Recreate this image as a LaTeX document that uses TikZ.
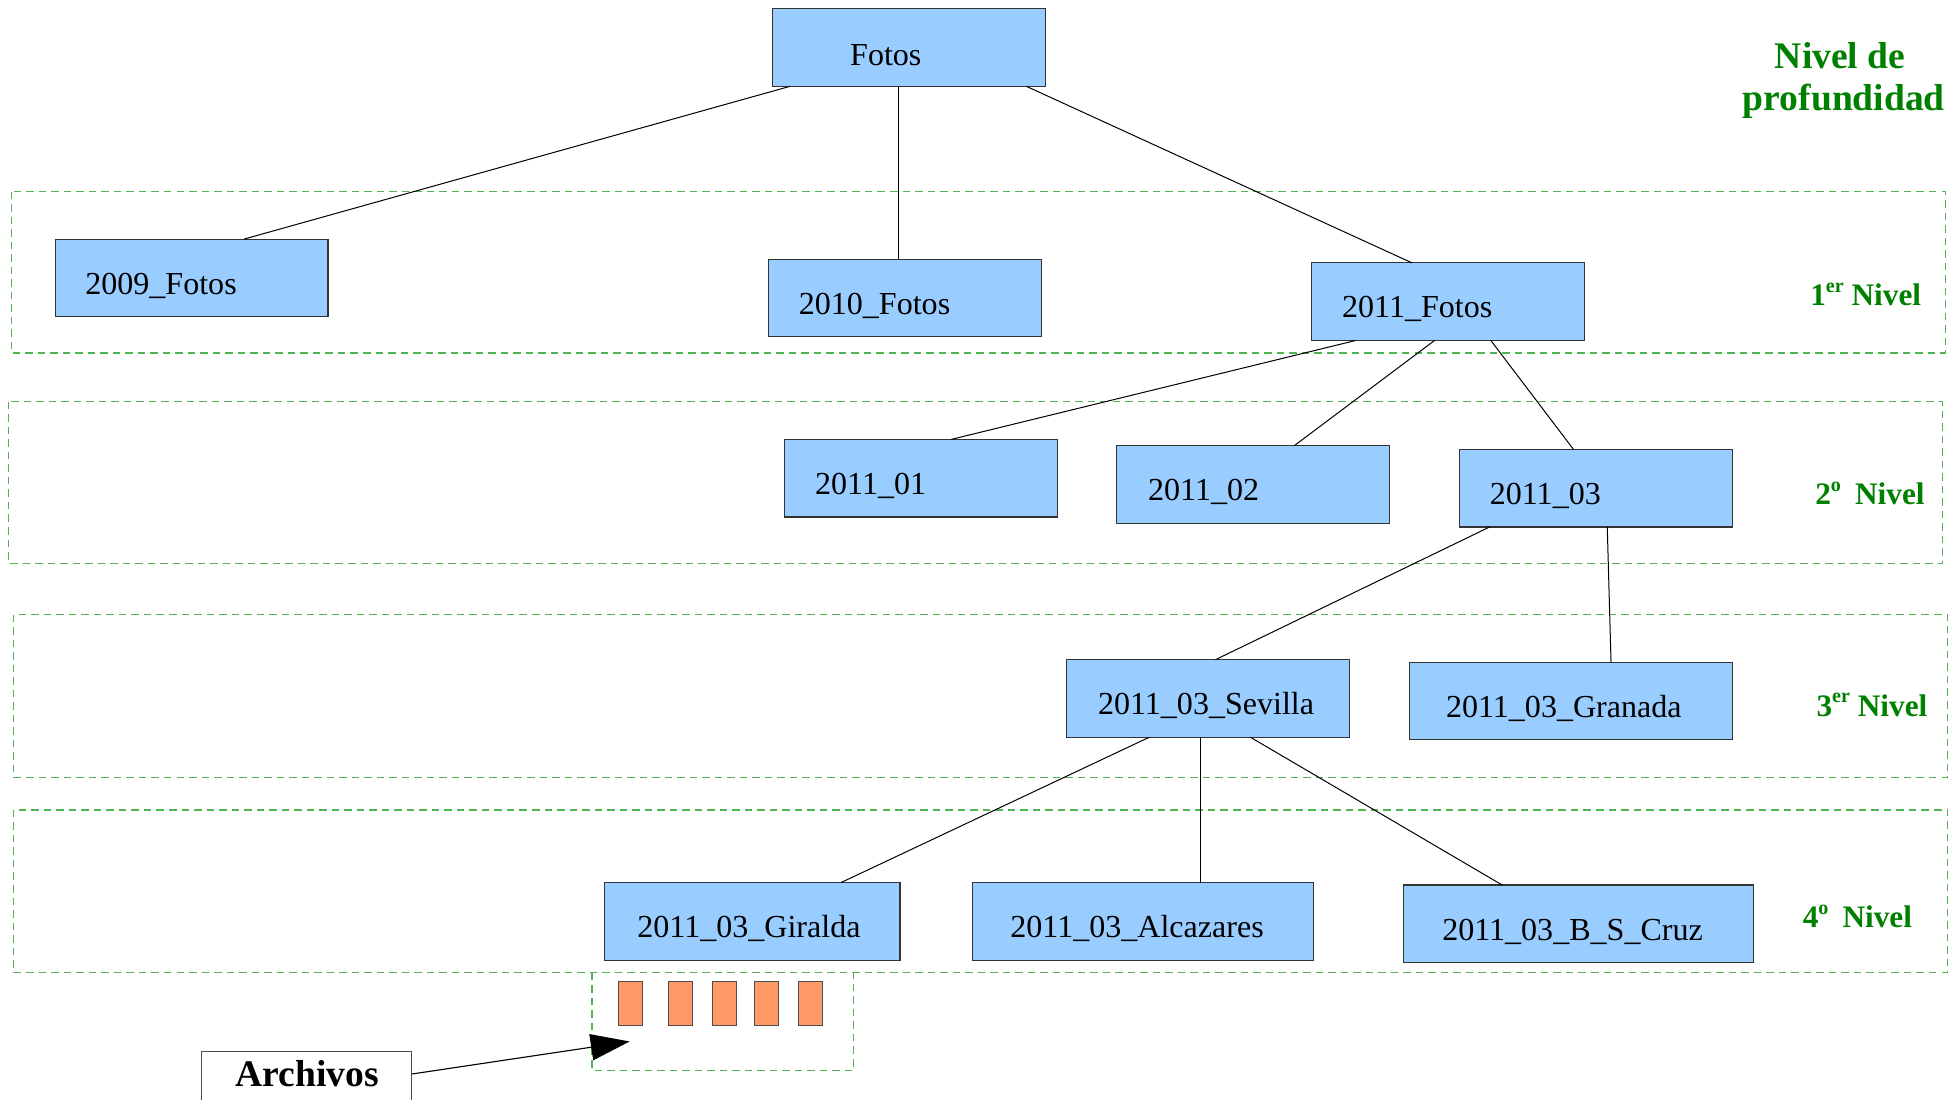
\documentclass[tikz,border=0pt]{standalone}
\usepackage{fontspec}
\setmainfont{Liberation Serif}
\usetikzlibrary{arrows.meta}
\definecolor{boxblue}{RGB}{153,204,255}
\definecolor{dashgreen}{RGB}{80,180,80}
\definecolor{txtgreen}{RGB}{0,128,0}
\definecolor{fileorange}{RGB}{255,153,102}
\newcommand{\supr}[1]{\raisebox{0.42em}{\fontsize{16}{16}\selectfont #1}}
\begin{document}
\begin{tikzpicture}[x=1pt,y=-1pt,
  folder/.style={draw=black!80, fill=boxblue, line width=0.9pt, minimum height=62pt, inner sep=0pt, outer sep=0pt, anchor=north west},
  ftext/.style={anchor=base west, inner sep=0pt, font=\fontsize{25.6}{30}\selectfont},
  link/.style={draw=black, line width=0.8pt},
  levelbox/.style={draw=dashgreen, line width=1pt, dash pattern=on 6pt off 4pt},
  lvl/.style={text=txtgreen, font=\bfseries\fontsize{25}{30}\selectfont, inner sep=0pt, anchor=base west},
  ttl/.style={text=txtgreen, font=\bfseries\fontsize{30}{33}\selectfont, inner sep=0pt, anchor=base},
  filebox/.style={draw=black!70, fill=fileorange, line width=0.8pt, minimum width=19pt, minimum height=35pt, inner sep=0pt, outer sep=0pt, anchor=north west}]
\clip (0,0) rectangle (1565,878);
\fill[white] (0,0) rectangle (1565,878);

% level frames
\draw[levelbox] (9,153) rectangle (1554,282);
\draw[levelbox] (7,321) rectangle (1552,450);
\draw[levelbox] (11,491) rectangle (1556,621);
\draw[levelbox] (11,647) rectangle (1556,777);
\draw[levelbox] (473,777) rectangle (682,855);

% folders
\node[folder, minimum width=218pt] (fotos) at (617,7) {};
\node[folder, minimum width=218pt] (f2009) at (44,191) {};
\node[folder, minimum width=218pt] (f2010) at (614,207) {};
\node[folder, minimum width=218pt] (f2011) at (1048,210) {};
\node[folder, minimum width=218pt] (m01) at (627,351) {};
\node[folder, minimum width=218pt] (m02) at (892,356) {};
\node[folder, minimum width=218pt] (m03) at (1166,359) {};
\node[folder, minimum width=226pt] (sev) at (852,527) {};
\node[folder, minimum width=258pt] (gra) at (1126,529) {};
\node[folder, minimum width=236pt] (gir) at (483,705) {};
\node[folder, minimum width=272pt] (alc) at (777,705) {};
\node[folder, minimum width=280pt] (cruz) at (1121,707) {};

\node[ftext] at ([xshift=62pt,yshift=17pt]fotos.south west) {Fotos};
\node[ftext] at ([xshift=24pt,yshift=18pt]f2009.south west) {2009\_Fotos};
\node[ftext] at ([xshift=24pt,yshift=18pt]f2010.south west) {2010\_Fotos};
\node[ftext] at ([xshift=24pt,yshift=18pt]f2011.south west) {2011\_Fotos};
\node[ftext] at ([xshift=24pt,yshift=18pt]m01.south west) {2011\_01};
\node[ftext] at ([xshift=25pt,yshift=18pt]m02.south west) {2011\_02};
\node[ftext] at ([xshift=24pt,yshift=18pt]m03.south west) {2011\_03};
\node[ftext] at ([xshift=25pt,yshift=18pt]sev.south west) {2011\_03\_Sevilla};
\node[ftext] at ([xshift=29pt,yshift=18pt]gra.south west) {2011\_03\_Granada};
\node[ftext] at ([xshift=26pt,yshift=18pt]gir.south west) {2011\_03\_Giralda};
\node[ftext] at ([xshift=30pt,yshift=18pt]alc.south west) {2011\_03\_Alcazares};
\node[ftext] at ([xshift=31pt,yshift=18pt]cruz.south west) {2011\_03\_B\_S\_Cruz};

% connectors
\draw[link] ([xshift=14pt]fotos.south west) -- ([xshift=151pt]f2009.north west);
\draw[link] ([xshift=101pt]fotos.south west) -- ([xshift=104pt]f2010.north west);
\draw[link] ([xshift=203pt]fotos.south west) -- ([xshift=80pt]f2011.north west);
\draw[link] ([xshift=35pt]f2011.south west) -- ([xshift=133pt]m01.north west);
\draw[link] ([xshift=98pt]f2011.south west) -- ([xshift=142pt]m02.north west);
\draw[link] ([xshift=143pt]f2011.south west) -- ([xshift=91pt]m03.north west);
\draw[link] ([xshift=24pt]m03.south west) -- ([xshift=119pt]sev.north west);
\draw[link] ([xshift=118pt]m03.south west) -- ([xshift=161pt]gra.north west);
\draw[link] ([xshift=66pt]sev.south west) -- ([xshift=189pt]gir.north west);
\draw[link] ([xshift=107pt]sev.south west) -- ([xshift=182pt]alc.north west);
\draw[link] ([xshift=147pt]sev.south west) -- ([xshift=79pt]cruz.north west);

% files
\node[filebox] (a1) at (494,784) {};
\node[filebox] (a2) at (534,784) {};
\node[filebox] (a3) at (569,784) {};
\node[filebox] (a4) at (603,784) {};
\node[filebox] (a5) at (638,784) {};

% Archivos
\node[draw=black!70, line width=0.8pt, fill=white, minimum width=168pt, minimum height=70pt, inner sep=0pt, outer sep=0pt, anchor=north west] (arch) at (161,840) {};
\node[anchor=base, inner sep=0pt, font=\bfseries\fontsize{30}{33}\selectfont] at (245.5,868) {Archivos};
\coordinate (tip) at (503,832);
\draw[line width=0.9pt, -{Triangle[length=31pt,width=21pt]}] ([yshift=-18pt]arch.north east) -- (tip);

% level labels
\node[ttl] at (1470,55) {Nivel de};
\node[ttl] at (1473,88) {profundidad};
\node[lvl] at (1446,244) {1\supr{er} Nivel};
\node[lvl] at (1450,403) {2\supr{o}\hspace{0.45em}Nivel};
\node[lvl] at (1451,572) {3\supr{er} Nivel};
\node[lvl] at (1440,741) {4\supr{o}\hspace{0.45em}Nivel};
\end{tikzpicture}
\end{document}
